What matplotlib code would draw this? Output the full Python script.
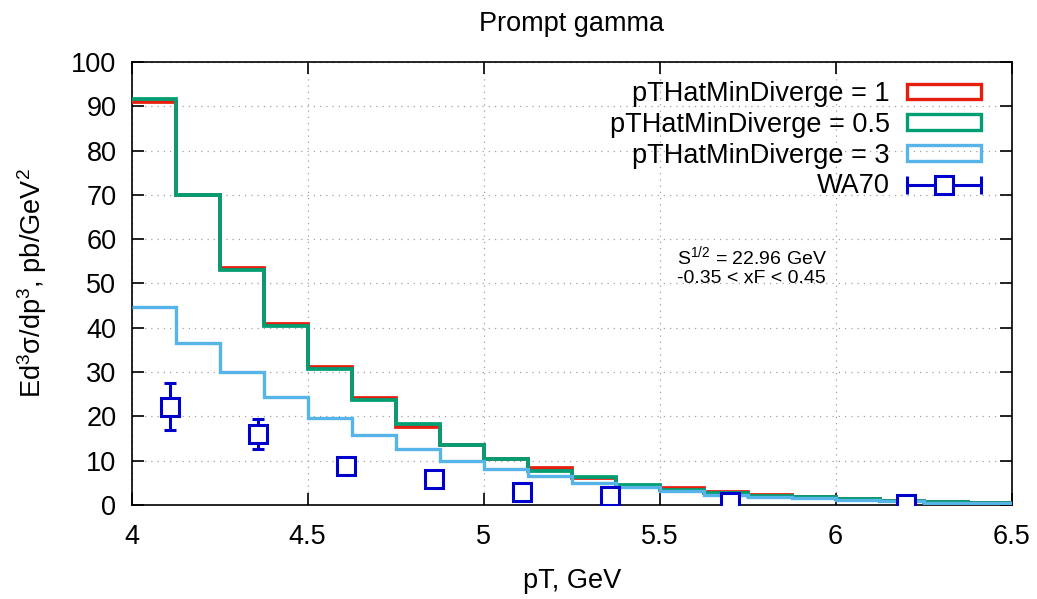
import numpy as np
import matplotlib
matplotlib.use('Agg')
import matplotlib.pyplot as plt
from matplotlib.patches import Rectangle
from matplotlib.lines import Line2D
from matplotlib.legend_handler import HandlerLine2D, HandlerTuple

plt.rcParams['font.family'] = 'Liberation Sans'
plt.rcParams['mathtext.fontset'] = 'custom'
plt.rcParams['mathtext.rm'] = 'Liberation Sans'
plt.rcParams['mathtext.default'] = 'regular'

# pT bin edges (GeV) for the simulated spectra
bin_edges = np.arange(4.0, 6.5001, 0.125)

# Ed3sigma/dp3 [pb/GeV^2] per bin for each pTHatMinDiverge setting
xsec_div1 = [91.0, 70.0, 53.5, 40.9, 31.2, 24.1, 17.6, 13.5, 10.3, 8.3,
             6.0, 4.3, 3.8, 3.0, 2.3, 1.9, 1.4, 1.0, 0.7, 0.5]
xsec_div05 = [91.6, 70.0, 53.0, 40.4, 30.6, 23.7, 18.3, 13.6, 10.4, 7.7,
              6.2, 4.5, 3.4, 2.6, 2.0, 1.9, 1.4, 1.0, 0.7, 0.5]
xsec_div3 = [44.6, 36.6, 30.0, 24.4, 19.7, 15.8, 12.6, 10.0, 8.1, 6.6,
             5.0, 4.0, 3.1, 2.3, 1.8, 1.5, 1.1, 0.8, 0.5, 0.4]

# WA70 measurement
wa70_pt = [4.11, 4.36, 4.61, 4.86, 5.11, 5.36, 5.70, 6.20]
wa70_val = [22.1, 16.0, 8.9, 5.9, 2.85, 1.95, 0.6, 0.2]
wa70_err_lo = [5.1, 3.4, 1.5, 1.0, 0.5, 0.35, 0.15, 0.05]
wa70_err_hi = [5.4, 3.4, 1.5, 1.0, 0.5, 0.35, 0.15, 0.05]

RED = '#E51E10'
GREEN = '#009E73'
SKY = '#56B4E9'
NAVY = '#0000CC'
FS = 19.5

fig = plt.figure(figsize=(10.37, 5.99), dpi=100)
ax = fig.add_axes([0.127, 0.157, 0.8485, 0.7395])

ax.stairs(xsec_div1, bin_edges, color=RED, lw=2.7, baseline=None, zorder=3)
ax.stairs(xsec_div05, bin_edges, color=GREEN, lw=2.7, baseline=None, zorder=4)
ax.stairs(xsec_div3, bin_edges, color=SKY, lw=2.4, baseline=None, zorder=5)

ax.errorbar(wa70_pt, wa70_val, yerr=[wa70_err_lo, wa70_err_hi], fmt='s',
            color=NAVY, mfc='white', mec=NAVY, ms=13, mew=2.2,
            elinewidth=2.2, capsize=4, capthick=2.2, zorder=6)

ax.set_xlim(4, 6.5)
ax.set_ylim(0, 100)
ax.set_xticks([4, 4.5, 5, 5.5, 6, 6.5])
ax.set_xticklabels(['4', '4.5', '5', '5.5', '6', '6.5'])
ax.set_yticks(np.arange(0, 101, 10))
ax.tick_params(direction='in', length=8.5, width=1.2, labelsize=FS,
               top=True, right=True, pad=11, colors='black')
ax.tick_params(axis='x', pad=14)
for sp in ax.spines.values():
    sp.set_linewidth(1.2)
ax.grid(True, color='#a0a0a0', linestyle=(0, (1, 4)), linewidth=0.9)
ax.set_axisbelow(True)

ax.set_title('Prompt gamma', fontsize=FS, pad=22)
ax.set_xlabel('pT, GeV', fontsize=FS, labelpad=13)
ax.set_ylabel('Ed$^3$σ/dp$^3$, pb/GeV$^2$', fontsize=FS, labelpad=16)

ax.text(5.55, 56.1, 'S$^{1/2}$ = 22.96 GeV', fontsize=14, va='center')
ax.text(5.55, 51.1, '-0.35 < xF < 0.45', fontsize=14, va='center')

# legend: open boxes for the histograms, horizontal error bar for data
h1 = Rectangle((0, 0), 1, 1, fc='none', ec=RED, lw=2.4)
h2 = Rectangle((0, 0), 1, 1, fc='none', ec=GREEN, lw=2.4)
h3 = Rectangle((0, 0), 1, 1, fc='none', ec=SKY, lw=2.4)
caps = Line2D([], [], color=NAVY, lw=2.2, marker='|', ms=13, mew=2.2)
box = Line2D([], [], color=NAVY, ls='none', marker='s', ms=13, mew=2.2,
             mfc='white')
leg = ax.legend([h1, h2, h3, (caps, box)],
                ['pTHatMinDiverge = 1', 'pTHatMinDiverge = 0.5',
                 'pTHatMinDiverge = 3', 'WA70'],
                handler_map={caps: HandlerLine2D(numpoints=2, marker_pad=0),
                             box: HandlerLine2D(numpoints=1),
                             tuple: HandlerTuple(ndivide=1)},
                loc='upper right', bbox_to_anchor=(0.981, 0.988),
                frameon=False, markerfirst=False, fontsize=FS,
                handlelength=2.75, handleheight=0.5, handletextpad=0.62,
                labelspacing=0.18, borderpad=0.0)
for t in leg.get_texts():
    t.set_ha('right')
leg.set_zorder(10)

fig.savefig('out.png', dpi=100)
